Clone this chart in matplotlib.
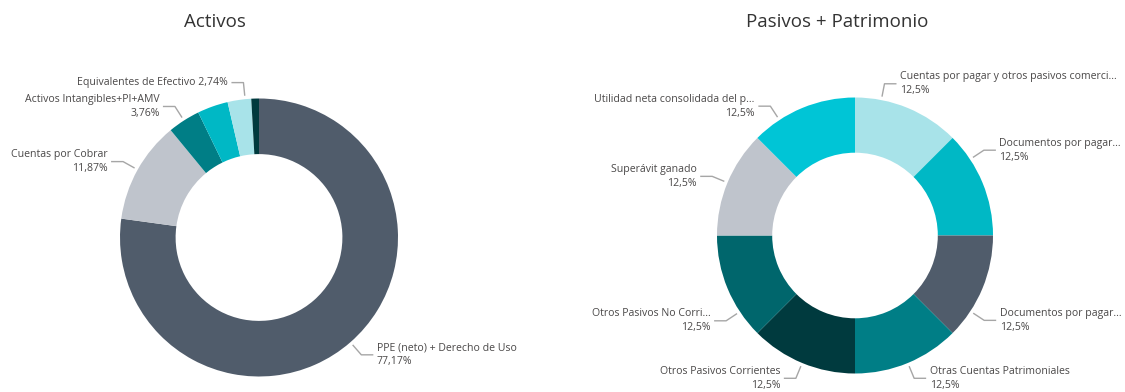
import matplotlib.pyplot as plt
import numpy as np

# Balance composition, shares in percent
activos_names = [
    'PPE (neto) + Derecho de Uso',
    'Cuentas por Cobrar',
    'Activos Intangibles+PI+AMV',
    None,
    'Equivalentes de Efectivo',
    None,
]
activos_pct = [77.17, 11.87, 3.76, 3.57, 2.74, 0.89]

pasivos_names = [
    'Cuentas por pagar y otros pasivos comerci...',
    'Documentos por pagar...',
    'Documentos por pagar...',
    'Otras Cuentas Patrimoniales',
    'Otros Pasivos Corrientes',
    'Otros Pasivos No Corri...',
    'Superávit ganado',
    'Utilidad neta consolidada del p...',
]
pasivos_pct = [12.5, 12.5, 12.5, 12.5, 12.5, 12.5, 12.5, 12.5]

SLATE = '#505C6B'
GREY = '#BFC4CC'
TEAL = '#007E86'
CYAN = '#00B8C5'
LIGHT_CYAN = '#A8E3E9'
DARK = '#003A3E'
DARK_TEAL = '#00666C'
BRIGHT_CYAN = '#00C5D6'

activos_colors = [SLATE, GREY, TEAL, CYAN, LIGHT_CYAN, DARK]
pasivos_colors = [LIGHT_CYAN, CYAN, SLATE, TEAL, DARK, DARK_TEAL, GREY,
                  BRIGHT_CYAN]

# leader anchor shift (deg) so neighbouring labels don't collide
activos_nudge = [0, 0, 0, 0, 2.4, 0]
pasivos_nudge = [-11.5, -11, 10.8, 0, 0, -11, 0, -10.7]

TEXT = '#4A4848'
LEADER = '#A6A6A6'
plt.rcParams['font.family'] = ['Open Sans', 'DejaVu Sans']

W, H = 1125, 392


def fmt_pct(v, digits):
    return f'{v:.{digits}f}'.replace('.', ',') + '%'


def donut(ax, cx, cy, r, names, pct, colors, nudge, digits, one_line=()):
    ax.pie(pct, colors=colors, startangle=90, counterclock=False,
           radius=1, wedgeprops=dict(width=0.4, linewidth=0))
    ax.set_aspect('auto')
    x0, x1 = ax.get_position().x0 * W, ax.get_position().x1 * W
    ax.set_xlim((x0 - cx) / r, (x1 - cx) / r)
    ax.set_ylim((0 - (H - cy)) / r, cy / r)
    ax.axis('off')

    cum = np.cumsum([0] + list(pct))
    total = cum[-1]
    for i, name in enumerate(names):
        if name is None:
            continue
        mid = (cum[i] + pct[i] / 2) / total * 360 + nudge[i]
        t = np.deg2rad(mid)
        d = np.array([np.sin(t), np.cos(t)])
        side = 1 if d[0] > 0 else -1
        p0 = 1.025 * d
        p1 = 1.12 * d
        p2 = p1 + np.array([side * 12 / r, 0])
        ax.plot([p0[0], p1[0], p2[0]], [p0[1], p1[1], p2[1]],
                color=LEADER, lw=1, solid_capstyle='butt', clip_on=False)
        if name in one_line:
            label = f'{name} {fmt_pct(pct[i], digits)}'
        else:
            label = f'{name}\n{fmt_pct(pct[i], digits)}'
        ax.text(p2[0] + side * 3.5 / r, p2[1], label,
                ha='left' if side > 0 else 'right', va='center',
                multialignment='left' if side > 0 else 'right',
                fontsize=7.6, color=TEXT, linespacing=1.35, clip_on=False)


fig = plt.figure(figsize=(W / 100, H / 100), dpi=100)
ax_a = fig.add_axes([0, 0, 0.5, 1])
ax_p = fig.add_axes([0.5, 0, 0.5, 1])

donut(ax_a, 259, 237.5, 139, activos_names, activos_pct, activos_colors,
      activos_nudge, 2, one_line=('Equivalentes de Efectivo',))
donut(ax_p, 855, 235.5, 138, pasivos_names, pasivos_pct, pasivos_colors,
      pasivos_nudge, 1)

fig.text(215 / W, 1 - 22 / H, 'Activos', ha='center', va='center',
         fontsize=13.5, color='#333333')
fig.text(837 / W, 1 - 22 / H, 'Pasivos + Patrimonio', ha='center',
         va='center', fontsize=13.5, color='#333333')

fig.savefig('out.png', dpi=100, facecolor='white')
